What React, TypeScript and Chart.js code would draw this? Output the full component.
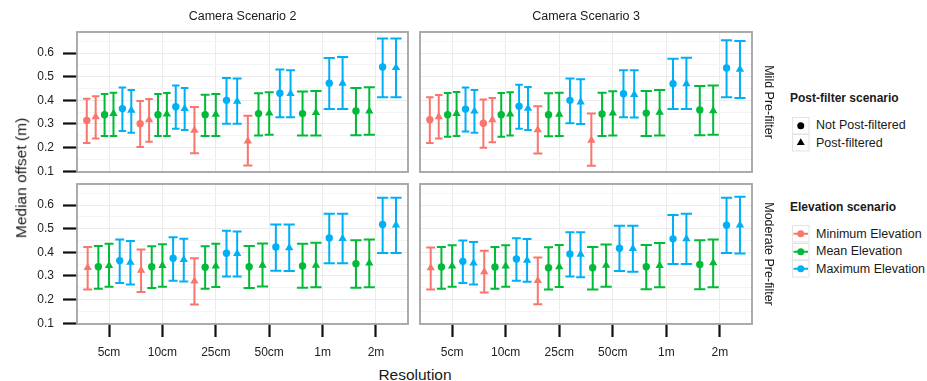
import React, { useEffect, useRef } from 'react';
import { Chart, registerables } from 'chart.js';

Chart.register(...registerables);

const FONT = "'Liberation Sans', Arial, Helvetica, sans-serif";

// ---------- data ----------
const resolutions = ['5cm', '10cm', '25cm', '50cm', '1m', '2m'];
const elevationScenarios = ['Minimum Elevation', 'Mean Elevation', 'Maximum Elevation'];
const postFilterScenarios = ['Not Post-filtered', 'Post-filtered'];
const cameraScenarios = ['Camera Scenario 2', 'Camera Scenario 3'];
const preFilterScenarios = ['Mild Pre-filter', 'Moderate Pre-filter'];
const elevationColors = ['#F8766D', '#00BA38', '#00B0F6'];
const yMajorTicks = [0.1, 0.2, 0.3, 0.4, 0.5, 0.6];
const yMinorTicks = [0.15, 0.25, 0.35, 0.45, 0.55, 0.65];

// rows: Min/Not, Min/Post, Mean/Not, Mean/Post, Max/Not, Max/Post ; columns: resolutions
const cam2MildMedian = [
  [0.315, 0.301, null, null, null, null],
  [0.330, 0.318, 0.273, 0.228, null, null],
  [0.339, 0.339, 0.339, 0.344, 0.344, 0.355],
  [0.344, 0.342, 0.341, 0.346, 0.348, 0.355],
  [0.365, 0.373, 0.400, 0.430, 0.472, 0.541],
  [0.358, 0.365, 0.396, 0.428, 0.472, 0.538],
];
const cam2MildLower = [
  [0.220, 0.203, null, null, null, null],
  [0.239, 0.225, 0.176, 0.125, null, null],
  [0.249, 0.249, 0.249, 0.251, 0.251, 0.252],
  [0.249, 0.249, 0.249, 0.254, 0.251, 0.254],
  [0.270, 0.280, 0.301, 0.328, 0.363, 0.413],
  [0.263, 0.275, 0.301, 0.328, 0.363, 0.413],
];
const cam2MildUpper = [
  [0.407, 0.397, null, null, null, null],
  [0.417, 0.406, 0.372, 0.335, null, null],
  [0.427, 0.427, 0.424, 0.430, 0.437, 0.452],
  [0.432, 0.431, 0.427, 0.434, 0.439, 0.455],
  [0.454, 0.463, 0.494, 0.530, 0.579, 0.661],
  [0.444, 0.452, 0.492, 0.527, 0.583, 0.661],
];

const cam3MildMedian = [
  [0.318, 0.303, null, null, null, null],
  [0.330, 0.318, 0.275, 0.231, null, null],
  [0.339, 0.339, 0.339, 0.342, 0.346, 0.359],
  [0.344, 0.342, 0.341, 0.346, 0.349, 0.356],
  [0.363, 0.375, 0.400, 0.428, 0.470, 0.537],
  [0.354, 0.366, 0.393, 0.424, 0.470, 0.531],
];
const cam3MildLower = [
  [0.220, 0.200, null, null, null, null],
  [0.239, 0.223, 0.175, 0.123, null, null],
  [0.246, 0.246, 0.248, 0.249, 0.249, 0.252],
  [0.249, 0.251, 0.249, 0.251, 0.251, 0.254],
  [0.268, 0.280, 0.303, 0.328, 0.363, 0.413],
  [0.263, 0.275, 0.300, 0.327, 0.363, 0.410],
];
const cam3MildUpper = [
  [0.413, 0.404, null, null, null, null],
  [0.423, 0.410, 0.375, 0.344, null, null],
  [0.431, 0.431, 0.430, 0.432, 0.439, 0.461],
  [0.435, 0.434, 0.432, 0.438, 0.444, 0.463],
  [0.454, 0.466, 0.492, 0.527, 0.576, 0.654],
  [0.444, 0.456, 0.489, 0.527, 0.580, 0.651],
];

const cam2ModerateMedian = [
  [null, null, null, null, null, null],
  [0.335, 0.324, 0.278, null, null, null],
  [0.339, 0.339, 0.337, 0.339, 0.342, 0.352],
  [0.344, 0.344, 0.342, 0.345, 0.345, 0.354],
  [0.365, 0.375, 0.396, 0.423, 0.461, 0.518],
  [0.358, 0.369, 0.395, 0.419, 0.458, 0.515],
];
const cam2ModerateLower = [
  [null, null, null, null, null, null],
  [0.243, 0.232, 0.179, null, null, null],
  [0.246, 0.249, 0.246, 0.249, 0.250, 0.250],
  [0.254, 0.254, 0.253, 0.256, 0.252, 0.252],
  [0.270, 0.280, 0.298, 0.322, 0.354, 0.397],
  [0.264, 0.277, 0.298, 0.321, 0.354, 0.397],
];
const cam2ModerateUpper = [
  [null, null, null, null, null, null],
  [0.423, 0.412, 0.375, null, null, null],
  [0.427, 0.426, 0.426, 0.427, 0.436, 0.451],
  [0.436, 0.434, 0.436, 0.437, 0.441, 0.454],
  [0.454, 0.464, 0.491, 0.518, 0.563, 0.631],
  [0.448, 0.458, 0.488, 0.518, 0.563, 0.631],
];

const cam3ModerateMedian = [
  [null, null, null, null, null, null],
  [0.334, 0.318, 0.281, null, null, null],
  [0.338, 0.338, 0.335, 0.335, 0.339, 0.349],
  [0.342, 0.342, 0.339, 0.345, 0.344, 0.356],
  [0.362, 0.372, 0.393, 0.417, 0.457, 0.515],
  [0.355, 0.366, 0.392, 0.416, 0.457, 0.515],
];
const cam3ModerateLower = [
  [null, null, null, null, null, null],
  [0.243, 0.230, 0.181, null, null, null],
  [0.246, 0.246, 0.243, 0.243, 0.244, 0.244],
  [0.254, 0.254, 0.253, 0.254, 0.252, 0.252],
  [0.270, 0.280, 0.298, 0.321, 0.351, 0.397],
  [0.264, 0.276, 0.295, 0.318, 0.351, 0.395],
];
const cam3ModerateUpper = [
  [null, null, null, null, null, null],
  [0.420, 0.407, 0.378, null, null, null],
  [0.423, 0.423, 0.422, 0.423, 0.431, 0.451],
  [0.430, 0.430, 0.431, 0.433, 0.439, 0.454],
  [0.450, 0.460, 0.485, 0.512, 0.558, 0.631],
  [0.444, 0.456, 0.485, 0.512, 0.563, 0.635],
];

// ---------- layout ----------
type Matrix = (number | null)[][];
type Rect = { l: number; t: number; r: number; b: number };

const Y_MIN = 0.097;
const Y_MAX = 0.689;
const X_MIN = -0.6;
const X_MAX = 5.6;
const AXIS_W = 57;
const AXIS_H = 40;
const PAD = 10;

const panels = [
  { id: 'c2mild', rect: { l: 77, t: 32, r: 408, b: 172 }, hasY: true, hasX: false, med: cam2MildMedian, lo: cam2MildLower, hi: cam2MildUpper },
  { id: 'c3mild', rect: { l: 420, t: 32, r: 752, b: 172 }, hasY: false, hasX: false, med: cam3MildMedian, lo: cam3MildLower, hi: cam3MildUpper },
  { id: 'c2mod', rect: { l: 77, t: 184, r: 408, b: 324 }, hasY: true, hasX: true, med: cam2ModerateMedian, lo: cam2ModerateLower, hi: cam2ModerateUpper },
  { id: 'c3mod', rect: { l: 420, t: 184, r: 752, b: 324 }, hasY: false, hasX: true, med: cam3ModerateMedian, lo: cam3ModerateLower, hi: cam3ModerateUpper },
];

const isMajor = (v: number) => yMajorTicks.some((m) => Math.abs(m - v) < 1e-6);

const errorBarPlugin = {
  id: 'errorBars',
  beforeDatasetsDraw(chart: any) {
    const { ctx } = chart;
    const xs = chart.scales.x;
    const ys = chart.scales.y;
    ctx.save();
    chart.data.datasets.forEach((ds: any) => {
      ctx.strokeStyle = ds.borderColor;
      ctx.lineWidth = 2;
      ds.data.forEach((p: any) => {
        const px = xs.getPixelForValue(p.x);
        const half = xs.getPixelForValue(p.x + p.cap) - px;
        const yl = ys.getPixelForValue(p.lo);
        const yh = ys.getPixelForValue(p.hi);
        ctx.beginPath();
        ctx.moveTo(px, yl);
        ctx.lineTo(px, yh);
        ctx.moveTo(px - half, yl);
        ctx.lineTo(px + half, yl);
        ctx.moveTo(px - half, yh);
        ctx.lineTo(px + half, yh);
        ctx.stroke();
      });
    });
    ctx.restore();
  },
  afterDraw(chart: any) {
    const { ctx, chartArea } = chart;
    ctx.save();
    ctx.strokeStyle = '#A3A3A3';
    ctx.lineWidth = 1.8;
    ctx.strokeRect(chartArea.left, chartArea.top, chartArea.right - chartArea.left, chartArea.bottom - chartArea.top);
    ctx.restore();
  },
};

function buildDatasets(med: Matrix, lo: Matrix, hi: Matrix) {
  const datasets: any[] = [];
  for (let s = 0; s < 6; s++) {
    const elev = Math.floor(s / 2);
    const pf = s % 2;
    const data: any[] = [];
    resolutions.forEach((_, j) => {
      const v = med[s][j];
      if (v == null) return;
      const present: number[] = [];
      for (let t = 0; t < 6; t++) if (med[t][j] != null) present.push(t);
      const n = present.length;
      const k = present.indexOf(s);
      data.push({ x: j + (k - (n - 1) / 2) / n, y: v, lo: lo[s][j], hi: hi[s][j], cap: 0.42 / n });
    });
    datasets.push({
      type: 'scatter',
      label: `${elevationScenarios[elev]} / ${postFilterScenarios[pf]}`,
      data,
      backgroundColor: elevationColors[elev],
      borderColor: elevationColors[elev],
      pointStyle: pf ? 'triangle' : 'circle',
      pointRadius: pf ? 4.8 : 3.7,
      pointBorderWidth: 0,
      clip: false,
    });
  }
  return datasets;
}

function Panel(props: { rect: Rect; hasY: boolean; hasX: boolean; med: Matrix; lo: Matrix; hi: Matrix }) {
  const { rect, hasY, hasX, med, lo, hi } = props;
  const ref = useRef<HTMLCanvasElement>(null);
  const left = rect.l - (hasY ? AXIS_W : PAD);
  const top = rect.t - PAD;
  const width = rect.r + PAD - left;
  const height = rect.b + (hasX ? AXIS_H : PAD) - top;

  useEffect(() => {
    if (!ref.current) return;
    const chart = new Chart(ref.current, {
      type: 'scatter',
      data: { datasets: buildDatasets(med, lo, hi) },
      options: {
        animation: false,
        responsive: false,
        maintainAspectRatio: false,
        devicePixelRatio: 1,
        events: [],
        layout: { padding: { left: hasY ? 0 : PAD, top: PAD, right: PAD, bottom: hasX ? 0 : PAD } },
        plugins: { legend: { display: false }, tooltip: { enabled: false }, title: { display: false } },
        scales: {
          x: {
            type: 'linear',
            position: 'bottom',
            min: X_MIN,
            max: X_MAX,
            afterBuildTicks: (s: any) => {
              s.ticks = resolutions.map((_, i) => ({ value: i }));
            },
            afterFit: (s: any) => {
              s.height = hasX ? AXIS_H : 0;
              s.paddingLeft = 0;
              s.paddingRight = 0;
              s.paddingTop = 0;
              s.paddingBottom = 0;
            },
            border: { display: false },
            grid: { color: '#EBEBEB', lineWidth: 1, drawTicks: hasX, tickLength: 13, tickColor: '#111', tickWidth: 2.2 },
            ticks: {
              display: hasX,
              autoSkip: false,
              maxRotation: 0,
              padding: 8.5,
              color: '#222',
              font: { family: FONT, size: 12 },
              callback: (v: any) => resolutions[Math.round(Number(v))] ?? '',
            },
          },
          y: {
            type: 'linear',
            position: 'left',
            min: Y_MIN,
            max: Y_MAX,
            afterBuildTicks: (s: any) => {
              s.ticks = [...yMajorTicks, ...yMinorTicks].sort((a, b) => a - b).map((v) => ({ value: v }));
            },
            afterFit: (s: any) => {
              s.width = hasY ? AXIS_W : 0;
              s.paddingLeft = 0;
              s.paddingRight = 0;
              s.paddingTop = 0;
              s.paddingBottom = 0;
            },
            border: { display: false },
            grid: {
              color: (c: any) => (isMajor(c.tick?.value ?? 0) ? '#EBEBEB' : '#F4F4F4'),
              lineWidth: 1,
              drawTicks: hasY,
              tickLength: 14,
              tickColor: (c: any) => (isMajor(c.tick?.value ?? 0) ? '#111' : 'rgba(0,0,0,0)'),
              tickWidth: 2.2,
            },
            ticks: {
              display: hasY,
              autoSkip: false,
              padding: 9,
              color: '#222',
              font: { family: FONT, size: 12 },
              callback: (v: any) => (isMajor(Number(v)) ? Number(v).toFixed(1) : ''),
            },
          },
        },
      } as any,
      plugins: [errorBarPlugin],
    });
    return () => chart.destroy();
  }, []);

  return (
    <canvas
      ref={ref}
      width={width}
      height={height}
      style={{ position: 'absolute', left, top, width, height }}
    />
  );
}

const textBase: React.CSSProperties = {
  position: 'absolute',
  fontFamily: FONT,
  whiteSpace: 'nowrap',
  lineHeight: 1,
  color: '#1A1A1A',
};

function Label(props: { x: number; y: number; size: number; rotate?: number; bold?: boolean; anchor?: 'center' | 'left'; children: React.ReactNode }) {
  const { x, y, size, rotate = 0, bold, anchor = 'center', children } = props;
  const tx = anchor === 'center' ? '-50%' : '0';
  return (
    <div
      style={{
        ...textBase,
        left: x,
        top: y,
        fontSize: size,
        fontWeight: bold ? 700 : 400,
        transform: `translate(${tx}, -50%) rotate(${rotate}deg)`,
        transformOrigin: anchor === 'center' ? '50% 50%' : '0 50%',
      }}
    >
      {children}
    </div>
  );
}

const KEY = 17.5;

function KeyBox(props: { top: number; children: React.ReactNode }) {
  return (
    <svg
      width={KEY}
      height={KEY}
      style={{ position: 'absolute', left: 791.5, top: props.top, display: 'block', overflow: 'visible' }}
    >
      <rect x={0.5} y={0.5} width={KEY - 1} height={KEY - 1} fill="#FFFFFF" stroke="#E3E3E3" strokeWidth={1} />
      {props.children}
    </svg>
  );
}

export default function App() {
  const c = KEY / 2;
  const tri = (r: number) =>
    `${c},${c - r} ${c + r * 0.866},${c + r * 0.5} ${c - r * 0.866},${c + r * 0.5}`;
  const postTop = 116.5;
  const elevTop = 225;
  return (
    <div style={{ position: 'absolute', left: 0, top: 0, width: 927, height: 381, overflow: 'hidden', background: '#FFFFFF' }}>
      {panels.map((p) => (
        <Panel key={p.id} rect={p.rect} hasY={p.hasY} hasX={p.hasX} med={p.med} lo={p.lo} hi={p.hi} />
      ))}

      <Label x={242.5} y={15.5} size={12.5}>{cameraScenarios[0]}</Label>
      <Label x={586} y={15.5} size={12.5}>{cameraScenarios[1]}</Label>
      <Label x={769} y={102} size={12.5} rotate={90}>{preFilterScenarios[0]}</Label>
      <Label x={769} y={254} size={12.5} rotate={90}>{preFilterScenarios[1]}</Label>

      <Label x={21} y={178} size={15.5} rotate={-90}>Median offset (m)</Label>
      <Label x={415} y={375} size={15.5}>Resolution</Label>

      <Label x={790} y={98} size={12} bold anchor="left">Post-filter scenario</Label>
      {postFilterScenarios.map((name, i) => (
        <React.Fragment key={name}>
          <KeyBox top={postTop + i * KEY}>
            {i === 0 ? <circle cx={c} cy={c} r={3.5} fill="#000" /> : <polygon points={tri(4.6)} fill="#000" />}
          </KeyBox>
          <Label x={816} y={postTop + i * KEY + c} size={12.5} anchor="left">{name}</Label>
        </React.Fragment>
      ))}

      <Label x={790} y={207} size={12} bold anchor="left">Elevation scenario</Label>
      {elevationScenarios.map((name, i) => (
        <React.Fragment key={name}>
          <KeyBox top={elevTop + i * KEY}>
            <line x1={1.5} x2={KEY - 1.5} y1={c} y2={c} stroke={elevationColors[i]} strokeWidth={2} />
            <circle cx={c} cy={c} r={3.5} fill={elevationColors[i]} />
          </KeyBox>
          <Label x={816} y={elevTop + i * KEY + c} size={12.5} anchor="left">{name}</Label>
        </React.Fragment>
      ))}
    </div>
  );
}
